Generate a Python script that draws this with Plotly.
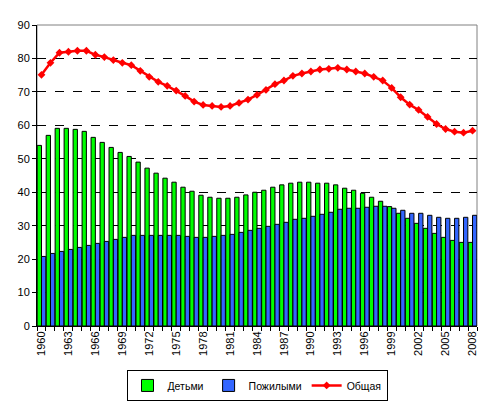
import plotly.graph_objects as go

years = list(range(1960, 2009))

children = [
    54.0, 57.0, 59.1, 59.1, 58.8, 58.2, 56.4, 54.9, 53.4, 51.9,
    50.7, 49.0, 47.2, 45.7, 44.2, 43.0, 41.5, 40.3, 39.1, 38.5,
    38.2, 38.2, 38.5, 39.2, 40.0, 40.6, 41.5, 42.2, 42.7, 43.0,
    43.0, 42.7, 42.7, 42.2, 41.2, 40.6, 39.7, 38.5, 37.3, 35.7,
    33.7, 32.2, 30.7, 29.2, 27.7, 26.5, 25.6, 25.0, 25.0,
]

elderly = [
    20.8, 21.7, 22.3, 22.9, 23.5, 24.1, 24.7, 25.3, 25.9, 26.5,
    27.1, 27.1, 27.1, 27.1, 27.1, 27.1, 26.8, 26.5, 26.5, 26.8,
    27.1, 27.4, 28.0, 28.6, 29.2, 29.8, 30.4, 31.0, 31.9, 32.2,
    32.8, 33.4, 34.0, 34.9, 35.2, 35.2, 35.5, 35.8, 35.8, 35.2,
    34.6, 33.7, 33.7, 33.1, 32.5, 32.2, 32.2, 32.5, 33.1,
]

total = [
    75.1, 78.7, 81.7, 82.0, 82.3, 82.3, 81.1, 80.4, 79.5, 78.7,
    78.0, 76.3, 74.5, 73.0, 71.8, 70.4, 68.8, 67.1, 66.1, 65.8,
    65.5, 65.8, 66.7, 67.7, 69.1, 70.6, 72.3, 73.4, 74.8, 75.5,
    76.1, 76.7, 76.9, 77.2, 76.7, 76.1, 75.5, 74.5, 73.4, 71.2,
    68.4, 66.2, 64.6, 62.5, 60.4, 58.9, 58.1, 57.8, 58.4,
]

fig = go.Figure()

fig.add_trace(go.Bar(
    x=years, y=children, name="Детьми",
    marker=dict(color="#00FF00", line=dict(color="black", width=1)),
))
fig.add_trace(go.Bar(
    x=years, y=elderly, name="Пожилыми",
    marker=dict(color="#3366FF", line=dict(color="black", width=1)),
))
fig.add_trace(go.Scatter(
    x=years, y=total, name="Общая",
    mode="lines+markers",
    line=dict(color="#FF0000", width=2.5),
    marker=dict(symbol="diamond", size=6, color="#FF0000"),
))

# серая рамка области построения (верх и справа)
fig.add_shape(
    type="rect", xref="paper", yref="paper", x0=0, y0=0, x1=1, y1=1,
    line=dict(color="#808080", width=1), layer="below",
)

# страница даёт отступ body 8px, поэтому фигура чуть меньше окна
fig.update_layout(
    width=484, height=393,
    margin=dict(l=29, r=15, t=17, b=75, autoexpand=False),
    paper_bgcolor="white",
    plot_bgcolor="white",
    font=dict(family="Liberation Sans, Arial", size=11, color="black"),
    barmode="group",
    bargap=0.04,
    bargroupgap=0,
    showlegend=True,
    legend=dict(
        orientation="h",
        x=0.5, y=-0.146, xanchor="center", yanchor="top",
        bordercolor="black", borderwidth=1,
        font=dict(size=10.5),
        itemwidth=30,
        tracegroupgap=0,
    ),
)

fig.update_xaxes(
    range=[1959.5, 2008.5],
    tickmode="linear", tick0=1960, dtick=3,
    tickangle=-90,
    ticks="",
    automargin=False,
    showline=True, linecolor="black", linewidth=1,
    showgrid=False, zeroline=False,
    minor=dict(ticks="outside", tick0=1959.5, dtick=1, ticklen=4, tickcolor="black", showgrid=False),
)

fig.update_yaxes(
    range=[0, 90],
    tickmode="linear", tick0=0, dtick=10,
    ticks="outside", ticklen=4, tickcolor="black",
    automargin=False,
    showline=True, linecolor="black", linewidth=1,
    showgrid=True, gridcolor="black", griddash="dash", gridwidth=1,
    zeroline=False,
)

fig.write_html("out.html")
